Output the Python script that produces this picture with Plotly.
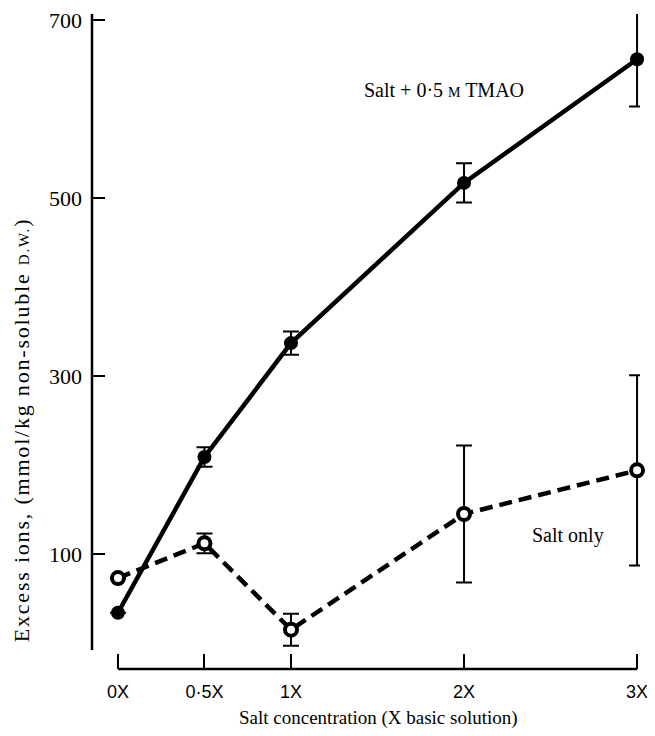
import plotly.graph_objects as go

# Data
concentration = [0, 0.5, 1, 2, 3]
tick_labels = ["0X", "0·5X", "1X", "2X", "3X"]

tmao_values = [34, 209, 337, 517, 656]
tmao_errors = [0, 11, 13, 22, 53]

salt_values = [73, 112, 15, 145, 194]
salt_errors = [0, 11, 18, 77, 107]

y_ticks = [100, 300, 500, 700]

SERIF = "Liberation Serif"
SANS = "Liberation Sans"

fig = go.Figure()

# Salt only (dashed, open circles)
fig.add_trace(go.Scatter(
    x=concentration, y=salt_values,
    mode="lines+markers",
    line=dict(color="black", width=4.5, dash="13px,7px"),
    marker=dict(symbol="circle", size=12, color="white",
                line=dict(color="black", width=4)),
    error_y=dict(type="data", array=salt_errors, visible=True,
                 color="black", thickness=2, width=8),
    cliponaxis=False,
    showlegend=False,
))

# Salt + 0.5 M TMAO (solid, filled circles)
fig.add_trace(go.Scatter(
    x=concentration, y=tmao_values,
    mode="lines+markers",
    line=dict(color="black", width=4.5),
    marker=dict(symbol="circle", size=14, color="black"),
    error_y=dict(type="data", array=tmao_errors, visible=True,
                 color="black", thickness=2, width=8),
    cliponaxis=False,
    showlegend=False,
))

# Annotations (series labels)
fig.add_annotation(x=1.41, y=621, xref="x", yref="y",
                   text="Salt + 0·5 <span style='font-size:14px'>M</span> TMAO",
                   showarrow=False, xanchor="left", yanchor="middle",
                   font=dict(family=SERIF, size=20, color="black"))
fig.add_annotation(x=2.38, y=121, xref="x", yref="y",
                   text="Salt only",
                   showarrow=False, xanchor="left", yanchor="middle",
                   font=dict(family=SERIF, size=20, color="black"))

# y axis title (rotated text, lower than centre as in the original)
fig.add_annotation(x=-0.128, y=240, xref="paper", yref="y",
                   text="<span style='letter-spacing:1.8px'>Excess ions, (mmol/kg non-soluble <span style='font-size:15px'>D.W.</span>)</span>",
                   textangle=-90, showarrow=False,
                   xanchor="center", yanchor="middle",
                   font=dict(family=SERIF, size=22, color="black"))

# x axis title
fig.add_annotation(x=0.522, y=-0.075, xref="paper", yref="paper",
                   text="Salt concentration (X basic solution)",
                   showarrow=False, xanchor="center", yanchor="middle",
                   font=dict(family=SERIF, size=19, color="black"))

# x axis line spanning first to last category (bracket-like)
fig.add_shape(type="line", xref="x", yref="paper",
              x0=min(concentration), x1=max(concentration), y0=0, y1=0,
              line=dict(color="black", width=2.5))
# y axis line
fig.add_shape(type="line", xref="paper", yref="paper",
              x0=0, x1=0, y0=0.029, y1=1,
              line=dict(color="black", width=2.5))

fig.update_layout(
    width=647, height=720,
    margin=dict(l=84, r=15, t=6, b=59),
    paper_bgcolor="white", plot_bgcolor="white",
    xaxis=dict(
        range=[-0.150, 3.017],
        tickvals=concentration, ticktext=tick_labels,
        ticks="inside", ticklen=15, tickwidth=2, tickcolor="black",
        showline=False, showgrid=False, zeroline=False,
        tickfont=dict(family=SANS, size=18, color="black"),
        ticklabelstandoff=10,
        ticklabeloverflow="allow",
        automargin=False,
    ),
    yaxis=dict(
        range=[-29.2, 706.8],
        tickvals=y_ticks,
        ticks="inside", ticklen=13, tickwidth=2, tickcolor="black",
        showline=False, showgrid=False, zeroline=False,
        tickfont=dict(family=SERIF, size=22, color="black"),
        ticklabelstandoff=9,
        ticklabeloverflow="allow",
        automargin=False,
    ),
)

fig.write_html("out.html")
